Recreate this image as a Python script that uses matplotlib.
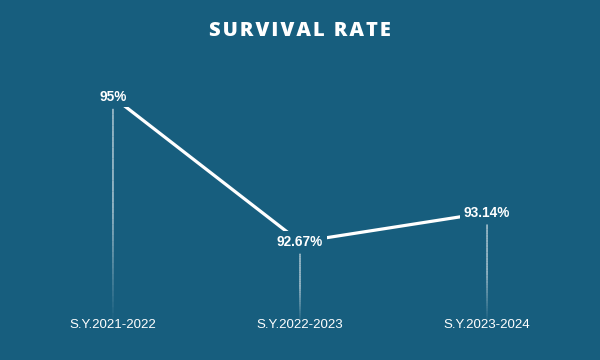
import numpy as np
import matplotlib.pyplot as plt
from matplotlib.collections import LineCollection

# Data
years = ['S.Y.2021-2022', 'S.Y.2022-2023', 'S.Y.2023-2024']
rates = [95.0, 92.67, 93.14]
labels = ['95%', '92.67%', '93.14%']

bg = '#175e7e'

fig = plt.figure(figsize=(6, 3.6), dpi=100, facecolor=bg)
ax = fig.add_axes([0, 0, 1, 1], facecolor=bg)
x = np.arange(len(years))
ax.set_xlim(-0.604, 2.604)
ax.set_ylim(90.77, 96.56)
ax.axis('off')

# main line
ax.plot(x, rates, color='white', lw=2.3, solid_capstyle='butt', zorder=2)

# fading drop lines from below each label down to the axis labels
y_bottom = 91.35
for xi, yi in zip(x, rates):
    top = yi - 0.19
    ys = np.linspace(top, y_bottom, 40)
    segs = [[(xi, ys[i]), (xi, ys[i + 1])] for i in range(len(ys) - 1)]
    frac = np.linspace(0, 1, len(segs))
    alphas = np.clip(1.5 * (1 - frac), 0, 0.8)
    cols = [(1, 1, 1, a) for a in alphas]
    ax.add_collection(LineCollection(segs, colors=cols, linewidths=0.9,
                                     capstyle='butt', snap=False, zorder=1))

# data labels, boxed in background colour to break the line
for xi, yi, lab in zip(x, rates, labels):
    ax.text(xi, yi, lab, color='white', fontsize=9.8, fontweight='bold',
            ha='center', va='center', family='Liberation Sans', zorder=3,
            bbox=dict(boxstyle='square,pad=0.25', fc=bg, ec='none'))

# category labels
for xi, yr in zip(x, years):
    ax.text(xi, 90.77 + 35 / 62.2, yr, color='white', fontsize=9.5,
            ha='center', va='center', family='Liberation Sans')

fig.text(0.5, 0.915, '\u200a'.join('SURVIVAL RATE'), color='white', fontsize=14.5,
         fontweight='heavy', ha='center', va='center', family='Open Sans')

fig.savefig('out.png', dpi=100, facecolor=bg)
